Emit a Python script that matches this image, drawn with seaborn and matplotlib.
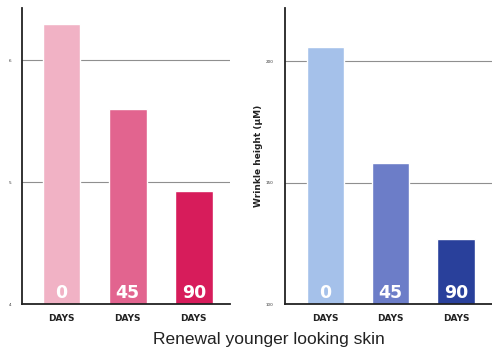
import matplotlib
matplotlib.use("Agg")
import matplotlib.pyplot as plt
import seaborn as sns
import pandas as pd
import matplotlib.transforms as mtransforms

days = ["0", "45", "90"]
day_labels = ["DAYS", "DAYS", "DAYS"]
left_values = [6.3, 5.6, 4.93]
right_values = [206, 158, 127]
left_ticks = [4, 5, 6]
right_ticks = [100, 150, 200]
left_colors = ["#f1b2c5", "#e2648f", "#d71c5b"]
right_colors = ["#a5c1ea", "#6c7dc8", "#29409b"]
title = "Renewal younger looking skin"
ylabel_right = "Wrinkle height (\u03bcM)"

sns.set_style("white")
plt.rcParams['font.family'] = ['DejaVu Sans']

fig = plt.figure(figsize=(4.92, 3.52), dpi=100)
ax1 = fig.add_axes([0.0447, 0.136, 0.423, 0.841])
ax2 = fig.add_axes([0.579, 0.136, 0.421, 0.841])

def draw(ax, values, colors, ticks, ylim, xlim):
    df = pd.DataFrame({"day": days, "value": values})
    ax.set_ylim(*ylim)
    for t in ticks[1:]:
        ax.axhline(t, color="#8f8f8f", lw=0.8, zorder=0)
    sns.barplot(data=df, x="day", y="value", hue="day", palette=colors,
                width=0.57, legend=False, ax=ax, saturation=1, zorder=2)
    ax.set_xlim(*xlim)
    ax.set_ylim(*ylim)
    ax.set_xticks(range(len(days)))
    ax.set_xticklabels(day_labels, fontsize=6.5, fontweight="bold", color="#222222")
    ax.set_yticks(ticks)
    ax.set_yticklabels([str(t) for t in ticks], fontsize=3, color="#333333")
    ax.tick_params(axis="y", direction="in", length=4, width=1.2, color="#222222", pad=8)
    ax.tick_params(axis="x", length=0, pad=7)
    ax.set_xlabel("")
    ax.set_ylabel("")
    for s in ["top", "right"]:
        ax.spines[s].set_visible(False)
    for s in ["left", "bottom"]:
        ax.spines[s].set_color("#222222")
        ax.spines[s].set_linewidth(1.3)
    trans = mtransforms.blended_transform_factory(ax.transData, ax.transAxes)
    for i, d in enumerate(days):
        ax.text(i, 0.038, d, transform=trans, ha="center", va="center",
                color="white", fontsize=12.5, fontweight="bold", zorder=3)

draw(ax1, left_values, left_colors, left_ticks, (4, 6.43), (-0.6, 2.55))
draw(ax2, right_values, right_colors, right_ticks, (100, 222), (-0.62, 2.55))
ax2.set_ylabel(ylabel_right, fontsize=6.5, fontweight="bold", color="#222222", labelpad=2)

fig.text(0.546, 0.035, title, ha="center", va="center", fontsize=12.5,
         color="#222222", family=["Liberation Sans", "DejaVu Sans"])

fig.savefig("out.png", dpi=100)
